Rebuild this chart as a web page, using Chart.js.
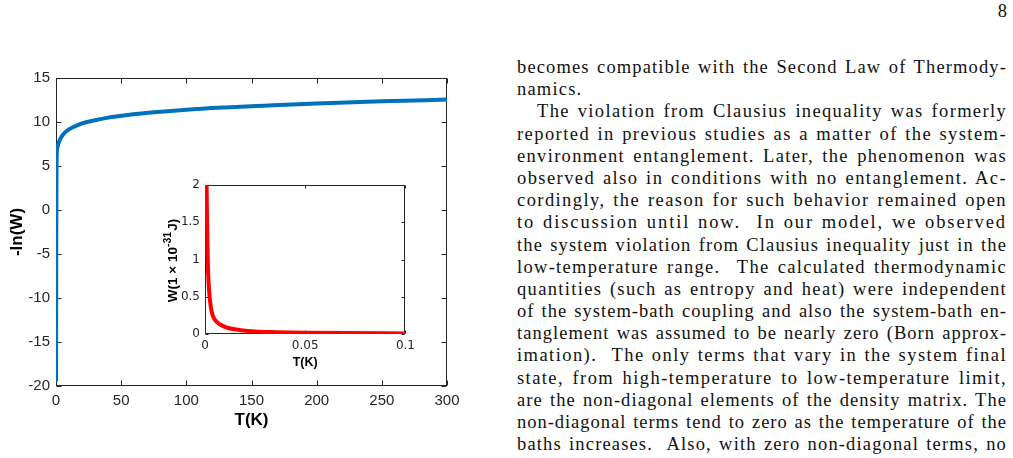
<!DOCTYPE html>
<html>
<head>
<meta charset="utf-8">
<script src="https://cdn.jsdelivr.net/npm/chart.js@4"></script>
<style>
  html, body { margin: 0; padding: 0; background: #fff; width: 1013px; height: 458px; overflow: hidden; }
  #mainBox { position: absolute; left: 0; top: 0; width: 480px; height: 458px; }
  #insetBox { position: absolute; left: 150px; top: 170px; width: 270px; height: 200px; }
  #pageNum { position: absolute; right: 6px; top: 1px; font-family: "Liberation Serif", serif; font-size: 18.5px; color: #111; }
  #text { position: absolute; left: 517px; top: 56px; width: 490px; font-family: "Liberation Serif", serif; font-size: 18.5px; line-height: 22.2px; color: #111; }
  #text div { text-align: justify; text-align-last: justify; height: 22.2px; white-space: nowrap; }
  #text div.last { text-align-last: left; }
  #text div.ind { padding-left: 20px; }
</style>
</head>
<body>
<div id="mainBox"><canvas id="mainChart"></canvas></div>
<div id="insetBox"><canvas id="insetChart"></canvas></div>
<div id="pageNum">8</div>
<div id="text">
  <div>becomes compatible with the Second Law of Thermody-</div>
  <div class="last">namics.</div>
  <div class="ind">The violation from Clausius inequality was formerly</div>
  <div>reported in previous studies as a matter of the system-</div>
  <div>environment entanglement. Later, the phenomenon was</div>
  <div>observed also in conditions with no entanglement. Ac-</div>
  <div>cordingly, the reason for such behavior remained open</div>
  <div>to discussion until now.&nbsp; In our model, we observed</div>
  <div>the system violation from Clausius inequality just in the</div>
  <div>low-temperature range.&nbsp; The calculated thermodynamic</div>
  <div>quantities (such as entropy and heat) were independent</div>
  <div>of the system-bath coupling and also the system-bath en-</div>
  <div>tanglement was assumed to be nearly zero (Born approx-</div>
  <div>imation).&nbsp; The only terms that vary in the system final</div>
  <div>state, from high-temperature to low-temperature limit,</div>
  <div>are the non-diagonal elements of the density matrix. The</div>
  <div>non-diagonal terms tend to zero as the temperature of the</div>
  <div>baths increases.&nbsp; Also, with zero non-diagonal terms, no</div>
</div>
<script>
// main curve: -ln(W) against T
const mainT = [0.05, 0.1, 0.15, 0.2, 0.3, 0.4, 0.55, 0.8, 1.2, 1.8, 3, 5, 8, 13, 20, 30, 40, 55, 75, 100, 130, 160, 200, 250, 300];
const mainLnW = [-19.5, -13, -8, -4, 1, 4.5, 6.2, 6.9, 7.15, 7.5, 8.0, 8.5, 8.95, 9.4, 9.85, 10.2, 10.5, 10.8, 11.1, 11.4, 11.65, 11.85, 12.1, 12.35, 12.55];
const mainXTicks = [0, 50, 100, 150, 200, 250, 300];
const mainYTicks = [-20, -15, -10, -5, 0, 5, 10, 15];

// inset curve: W (1e-31 J) at low T
const insetT = [0.0008, 0.001, 0.0013, 0.0016, 0.002, 0.0025, 0.0033, 0.0045, 0.006, 0.008, 0.0105, 0.0135, 0.018, 0.025, 0.035, 0.05, 0.07, 0.1];
const insetW = [2.0, 1.55, 1.1, 0.8, 0.6, 0.45, 0.3, 0.21, 0.16, 0.12, 0.09, 0.07, 0.05, 0.033, 0.024, 0.017, 0.012, 0.008];
const insetXTicks = [0, 0.05, 0.1];
const insetYTicks = [0, 0.5, 1, 1.5, 2];

const axisColor = '#262626';
Chart.defaults.font.family = '"Liberation Sans", Arial, sans-serif';
Chart.defaults.color = axisColor;

// widen the letters of each text line so the justified gaps stay small
document.querySelectorAll('#text div').forEach(div => {
  const span = document.createElement('span');
  span.innerHTML = div.innerHTML;
  div.innerHTML = '';
  div.appendChild(span);
  div.style.textAlign = 'left';
  div.style.textAlignLast = 'left';
  const avail = div.classList.contains('ind') ? 470 : 490;
  const w = span.getBoundingClientRect().width;
  const n = span.textContent.length;
  let ls = div.classList.contains('last') ? 1.2 : (avail - 12 - w) / n;
  ls = Math.max(-0.5, Math.min(3, ls));
  span.style.letterSpacing = ls.toFixed(2) + 'px';
  div.style.textAlign = '';
  div.style.textAlignLast = '';
  div.style.whiteSpace = 'normal';
});

// matlab style box with inward ticks on all four sides
const boxTicks = {
  id: 'boxTicks',
  beforeDatasetsDraw(chart, args, opts) {
    const { ctx, chartArea: a, scales } = chart;
    const len = opts.len || 5;
    const l = Math.round(a.left) + 0.5, r = Math.round(a.right) - 0.5;
    const t = Math.round(a.top) + 0.5, b = Math.round(a.bottom) - 0.5;
    ctx.save();
    ctx.strokeStyle = axisColor;
    ctx.lineWidth = 1;
    ctx.strokeRect(l, t, r - l, b - t);
    ctx.beginPath();
    scales.x.ticks.forEach(tk => {
      const px = Math.round(scales.x.getPixelForValue(tk.value)) + 0.5;
      ctx.moveTo(px, b); ctx.lineTo(px, b - len);
      ctx.moveTo(px, t); ctx.lineTo(px, t + len);
    });
    scales.y.ticks.forEach(tk => {
      const py = Math.round(scales.y.getPixelForValue(tk.value)) + 0.5;
      ctx.moveTo(l, py); ctx.lineTo(l + len, py);
      ctx.moveTo(r, py); ctx.lineTo(r - len, py);
    });
    ctx.stroke();
    ctx.restore();
  }
};

// rotated y label with superscript for the inset
const insetYLabel = {
  id: 'insetYLabel',
  afterDraw(chart) {
    const ctx = chart.ctx;
    const a = chart.chartArea;
    const parts = [
      { s: 'W(1 \u00d7 10', f: 'bold 13.5px "Liberation Sans", Arial, sans-serif', dy: 0 },
      { s: '-31', f: 'bold 10.5px "Liberation Sans", Arial, sans-serif', dy: -5 },
      { s: 'J)', f: 'bold 13.5px "Liberation Sans", Arial, sans-serif', dy: 0 }
    ];
    ctx.save();
    let total = 0;
    parts.forEach(p => { ctx.font = p.f; p.w = ctx.measureText(p.s).width; total += p.w; });
    total += 1;
    ctx.translate(23, (a.top + a.bottom) / 2 + 1);
    ctx.rotate(-Math.PI / 2);
    ctx.fillStyle = '#000';
    ctx.textBaseline = 'middle';
    let x = -total / 2;
    parts.forEach((p, i) => {
      ctx.font = p.f;
      ctx.fillText(p.s, x, p.dy);
      x += p.w + (i === 1 ? 1 : 0);
    });
    ctx.restore();
  }
};

function fixTicks(list) {
  return scale => { scale.ticks = list.map(v => ({ value: v })); };
}

new Chart(document.getElementById('mainChart'), {
  type: 'line',
  data: {
    datasets: [{
      data: mainT.map((t, i) => ({ x: t, y: mainLnW[i] })),
      borderColor: '#0072BD',
      borderWidth: 4,
      pointRadius: 0,
      cubicInterpolationMode: 'monotone',
      fill: false
    }]
  },
  options: {
    responsive: true,
    maintainAspectRatio: false,
    animation: false,
    layout: { padding: { left: 0, right: 33, top: 78, bottom: 26 } },
    plugins: { legend: { display: false }, tooltip: { enabled: false }, boxTicks: { len: 5 } },
    scales: {
      x: {
        type: 'linear', min: 0, max: 300,
        afterBuildTicks: fixTicks(mainXTicks),
        afterFit: s => { s.height = 46; },
        grid: { display: false, drawTicks: false, tickLength: 0 },
        border: { display: false },
        ticks: { font: { size: 15 }, padding: 6, maxRotation: 0, callback: v => String(v) },
        title: { display: true, text: 'T(K)', color: '#000', font: { size: 17, weight: 'bold' }, padding: { top: 0, bottom: 1 } }
      },
      y: {
        min: -20, max: 15,
        afterBuildTicks: fixTicks(mainYTicks),
        afterFit: s => { s.width = 56; },
        grid: { display: false, drawTicks: false, tickLength: 0 },
        border: { display: false },
        ticks: { font: { size: 15 }, padding: 6, callback: v => String(v) },
        title: { display: true, text: '-ln(W)', color: '#000', font: { size: 17, weight: 'bold' }, padding: { top: 7 } }
      }
    }
  },
  plugins: [boxTicks]
});

new Chart(document.getElementById('insetChart'), {
  type: 'line',
  data: {
    datasets: [{
      data: insetT.map((t, i) => ({ x: t, y: insetW[i] })),
      borderColor: '#FF0000',
      borderWidth: 4,
      pointRadius: 0,
      cubicInterpolationMode: 'monotone',
      fill: false
    }]
  },
  options: {
    responsive: true,
    maintainAspectRatio: false,
    animation: false,
    layout: { padding: { left: 0, right: 13, top: 15, bottom: 0 } },
    plugins: { legend: { display: false }, tooltip: { enabled: false }, boxTicks: { len: 3 } },
    scales: {
      x: {
        type: 'linear', min: 0, max: 0.1,
        afterBuildTicks: fixTicks(insetXTicks),
        afterFit: s => { s.height = 36; },
        grid: { display: false, drawTicks: false, tickLength: 0 },
        border: { display: false },
        ticks: { font: { size: 12, family: '"DejaVu Sans", sans-serif' }, padding: 5, maxRotation: 0, callback: v => String(v) },
        title: { display: true, text: 'T(K)', color: '#000', font: { size: 12.5, weight: 'bold' }, padding: { top: 0, bottom: 0 } }
      },
      y: {
        min: 0, max: 2,
        afterBuildTicks: fixTicks(insetYTicks),
        afterFit: s => { s.width = 55; },
        grid: { display: false, drawTicks: false, tickLength: 0 },
        border: { display: false },
        ticks: { font: { size: 12, family: '"DejaVu Sans", sans-serif' }, padding: 5, callback: v => String(v) }
      }
    }
  },
  plugins: [boxTicks, insetYLabel]
});
</script>
</body>
</html>
